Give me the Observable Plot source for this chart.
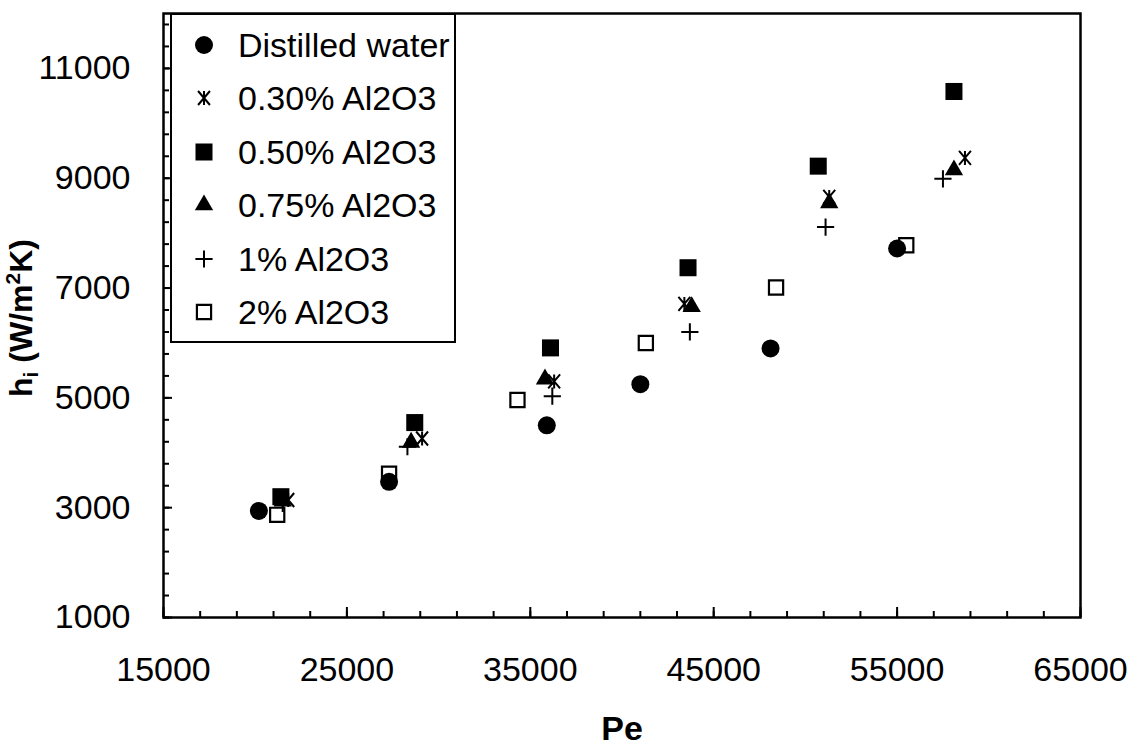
<!DOCTYPE html>
<html><head><meta charset="utf-8">
<script src="https://cdn.jsdelivr.net/npm/d3@7"></script>
<script src="https://cdn.jsdelivr.net/npm/@observablehq/plot@0.6"></script>
<style>
body{margin:0;background:#fff;font-family:"Liberation Sans",Arial,sans-serif;}
#wrap{position:relative;width:1133px;height:749px;overflow:hidden;}
#legend{position:absolute;left:170px;top:13px;width:286px;height:330px;border:2.5px solid #000;background:#fff;box-sizing:border-box;}
.row{position:absolute;left:0;height:40px;width:280px;}
.row svg{position:absolute;left:12px;top:0;}
.row span{position:absolute;left:66px;top:1px;font-size:34px;line-height:38px;color:#000;white-space:nowrap;}
</style></head><body><div id="wrap"></div>
<script>
// ---- data ----
const seriesNames = ["Distilled water", "0.30% Al2O3", "0.50% Al2O3", "0.75% Al2O3", "1% Al2O3", "2% Al2O3"];
const peWater = [20200, 27300, 35900, 41000, 48100, 55000];
const hWater  = [2940, 3470, 4500, 5250, 5900, 7720];
const pe030 = [21800, 29100, 36300, 43400, 51300, 58700];
const h030  = [3140, 4260, 5300, 6710, 8660, 9370];
const pe050 = [21400, 28700, 36100, 43600, 50700, 58100];
const h050  = [3200, 4550, 5910, 7370, 9220, 10580];
const pe075 = [21500, 28500, 35800, 43800, 51300, 58100];
const h075  = [3120, 4190, 5340, 6660, 8550, 9150];
const pe1 = [21500, 28300, 36200, 43700, 51100, 57500];
const h1  = [3080, 4110, 5030, 6200, 8110, 8990];
const pe2 = [21200, 27300, 34300, 41300, 48400, 55500];
const h2  = [2870, 3620, 4960, 6000, 7010, 7780];
const xTickLabels = [15000, 25000, 35000, 45000, 55000, 65000];
const yTickLabels = [1000, 3000, 5000, 7000, 9000, 11000];
const xMinorTicks = d3.range(15000, 65001, 2000);
const yMinorTicks = d3.range(1000, 12000, 400);

const peSeries = [peWater, pe030, pe050, pe075, pe1, pe2];
const hSeries = [hWater, h030, h050, h075, h1, h2];

// custom "star" marker (X with a vertical bar)
const starSymbol = {
  draw(ctx, size) {
    const r = Math.sqrt(size / Math.PI);
    const w = r * 0.85, h = r;
    ctx.moveTo(-w, -h); ctx.lineTo(w, h);
    ctx.moveTo(-w, h); ctx.lineTo(w, -h);
    ctx.moveTo(0, -h); ctx.lineTo(0, h);
  }
};

const styles = [
  {symbol: "circle", r: 9, fill: "black", stroke: "none", strokeWidth: 0},
  {symbol: starSymbol, r: 7, fill: "none", stroke: "black", strokeWidth: 2},
  {symbol: "square", r: 9.6, fill: "black", stroke: "none", strokeWidth: 0},
  {symbol: "triangle", r: 6.8, fill: "black", stroke: "none", strokeWidth: 0},
  {symbol: "plus", r: 5.6, fill: "none", stroke: "black", strokeWidth: 2},
  {symbol: "square", r: 8, fill: "none", stroke: "black", strokeWidth: 2.2}
];

const rows = seriesNames.map((name, i) => peSeries[i].map((pe, j) => ({series: name, pe, h: hSeries[i][j]})));

const W = 1133, H = 749, mL = 163, mR = 53, mT = 13, mB = 132;
const plotW = W - mL - mR, plotH = H - mT - mB;
const font = "'Liberation Sans', Arial, sans-serif";

const chart = Plot.plot({
  width: W, height: H,
  marginLeft: mL, marginRight: mR, marginTop: mT, marginBottom: mB,
  style: {fontFamily: font, fontSize: "34px", color: "black", background: "white"},
  x: {domain: [15000, 65000]},
  y: {domain: [1000, 12000]},
  marks: [
    Plot.tickX(xMinorTicks, {x: d => d, insetTop: plotH - 6, stroke: "black", strokeWidth: 2}),
    Plot.tickX(xTickLabels, {x: d => d, insetTop: plotH - 10, stroke: "black", strokeWidth: 2}),
    Plot.tickY(yMinorTicks, {y: d => d, insetRight: plotW - 6, stroke: "black", strokeWidth: 2}),
    Plot.tickY(yTickLabels, {y: d => d, insetRight: plotW - 9, stroke: "black", strokeWidth: 2}),
    Plot.axisX(xTickLabels, {tickSize: 0, tickPadding: 39, fontSize: 34, tickFormat: d3.format("d"), label: null}),
    Plot.axisY(yTickLabels, {tickSize: 0, tickPadding: 33, fontSize: 34, tickFormat: d3.format("d"), label: null}),
    ...rows.map((data, i) => Plot.dot(data, {x: "pe", y: "h", ...styles[i]})),
    Plot.frame({stroke: "black", strokeWidth: 2.5}),
    Plot.text(["Pe"], {frameAnchor: "bottom", dy: 122, fontSize: 34, fontWeight: "bold", text: d => d})
  ]
});

const wrap = document.getElementById("wrap");
wrap.appendChild(chart);

// y-axis title with subscript / superscript
const svg = d3.select(chart);
const t = svg.append("text")
  .attr("transform", "translate(32,318) rotate(-90)")
  .attr("text-anchor", "middle")
  .attr("font-family", font)
  .attr("font-size", 32)
  .attr("font-weight", "bold")
  .attr("fill", "black");
t.append("tspan").text("h");
t.append("tspan").attr("font-size", 21).attr("dy", 6).text("i");
t.append("tspan").attr("dy", -6).text(" (W/m");
t.append("tspan").attr("font-size", 21).attr("dy", -12).text("2");
t.append("tspan").attr("dy", 12).text("K)");

// legend
const legend = document.createElement("div");
legend.id = "legend";
wrap.appendChild(legend);
seriesNames.forEach((name, i) => {
  const row = document.createElement("div");
  row.className = "row";
  row.style.top = (10 + i * 53.4) + "px";
  const s = styles[i];
  const sym = typeof s.symbol === "string" ? d3["symbol" + s.symbol[0].toUpperCase() + s.symbol.slice(1)] : s.symbol;
  const path = d3.symbol(sym, Math.PI * s.r * s.r)();
  row.innerHTML = `<svg width="40" height="40"><path transform="translate(20,20)" d="${path}" fill="${s.fill}" stroke="${s.stroke}" stroke-width="${s.strokeWidth}"/></svg><span>${name}</span>`;
  legend.appendChild(row);
});
</script>
</body></html>
